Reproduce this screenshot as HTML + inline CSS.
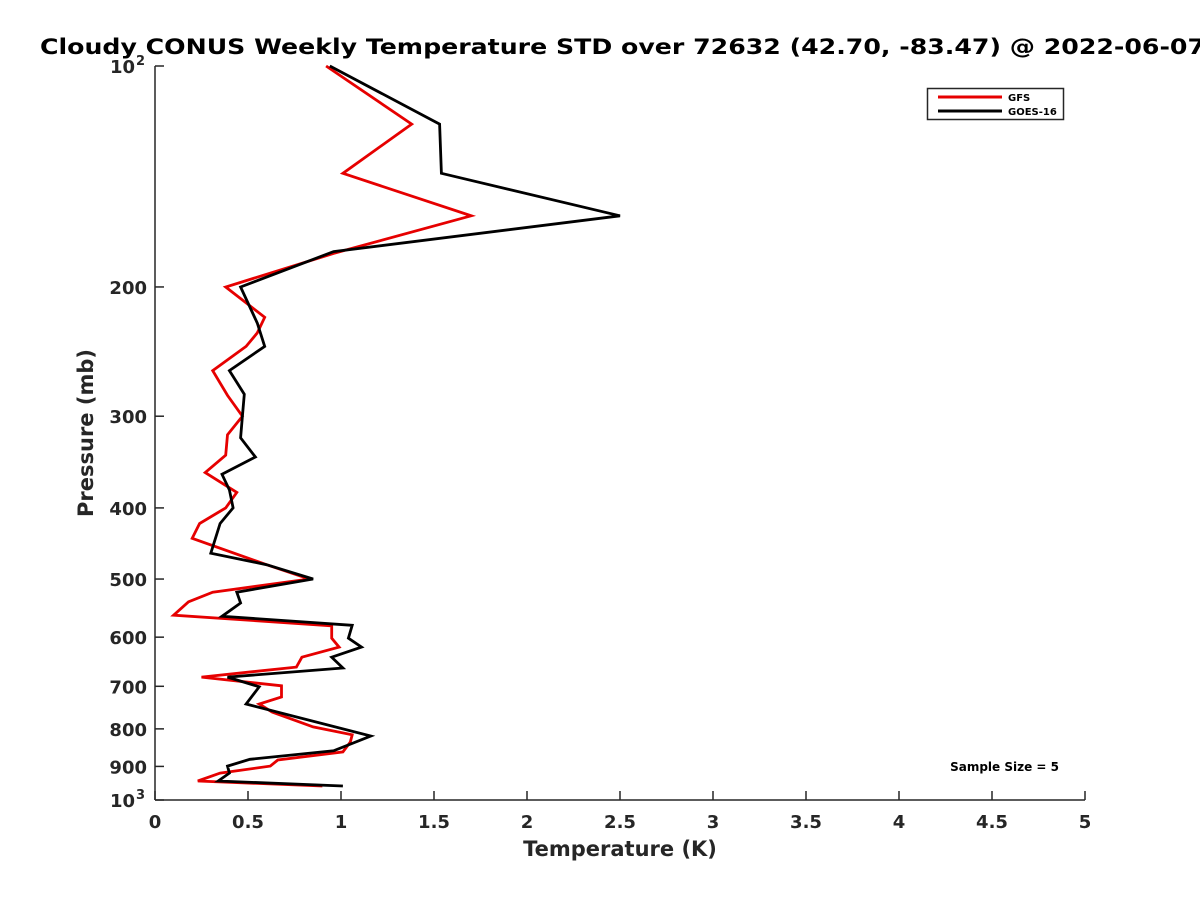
<!DOCTYPE html>
<html><head><meta charset="utf-8"><style>
html,body{margin:0;padding:0;background:#fff;}
svg{display:block;font-family:"DejaVu Sans","Liberation Sans",sans-serif;font-weight:bold;}
</style></head><body>
<svg id="chart" width="1200" height="900" viewBox="0 0 1200 900" xmlns="http://www.w3.org/2000/svg">
<rect width="1200" height="900" fill="#fff"/>
<text x="40" y="54" font-size="21" fill="#000" textLength="1165" lengthAdjust="spacingAndGlyphs">Cloudy CONUS Weekly Temperature STD over 72632 (42.70, -83.47) @ 2022-06-07</text>
<g id="axes"></g>
<g id="series"></g>
<text transform="translate(93,433) rotate(-90)" text-anchor="middle" font-size="21" fill="#262626">Pressure (mb)</text>
<text x="620" y="856" text-anchor="middle" font-size="21" fill="#262626">Temperature (K)</text>
<g>
<rect x="927.5" y="88.5" width="136" height="31" fill="#fff" stroke="#262626" stroke-width="1.5"/>
<line x1="938" y1="97" x2="1002" y2="97" stroke="#e60000" stroke-width="3"/>
<text x="1008" y="101" font-size="10" fill="#000">GFS</text>
<line x1="938" y1="111" x2="1002" y2="111" stroke="#000" stroke-width="3"/>
<text x="1008" y="115" font-size="10" fill="#000">GOES-16</text>
</g>
<text x="1059" y="771" text-anchor="end" font-size="12" fill="#000">Sample Size = 5</text>
</svg>
<script>
const xTicks = [0,0.5,1,1.5,2,2.5,3,3.5,4,4.5,5];
const xTickLabels = ["0","0.5","1","1.5","2","2.5","3","3.5","4","4.5","5"];
const yTicks = [100,200,300,400,500,600,700,800,900,1000];
const yTickLabels = ["10^2","200","300","400","500","600","700","800","900","10^3"];

const gfsPressure = [100,120,140,160,180,200,220,231,241,260,281,300,318,339,358,381,400,420,440,478,500,521,537,560,579,602,619,639,659,680,699,724,740,759,795,815,834,860,882,899,919,942,957];
const gfsTemp = [0.92,1.38,1.01,1.70,0.96,0.38,0.59,0.55,0.49,0.31,0.39,0.47,0.39,0.38,0.27,0.44,0.38,0.24,0.20,0.60,0.83,0.31,0.18,0.10,0.95,0.95,0.99,0.79,0.76,0.25,0.68,0.68,0.56,0.63,0.85,1.06,1.05,1.01,0.66,0.62,0.35,0.23,0.90];

const goesPressure = [100,120,140,160,179,200,224,241,260,280,300,321,341,360,378,400,420,461,478,500,521,539,562,578,602,619,639,661,680,701,740,818,857,880,899,919,942,957];
const goesTemp = [0.94,1.53,1.54,2.50,0.96,0.46,0.55,0.59,0.40,0.48,0.47,0.46,0.54,0.36,0.40,0.42,0.35,0.30,0.60,0.85,0.44,0.46,0.36,1.06,1.04,1.11,0.95,1.01,0.39,0.56,0.49,1.16,0.96,0.51,0.39,0.40,0.34,1.01];

const X0=155, X1=1085, Y0=66, Y1=800;
function xScale(v){return X0 + (v-0)/(5-0)*(X1-X0);}
function yScale(p){return Y0 + (Math.log10(p)-2)/(3-2)*(Y1-Y0);}

const NS="http://www.w3.org/2000/svg";
const axes=document.getElementById('axes');
function mk(tag,attrs,parent){const e=document.createElementNS(NS,tag);for(const k in attrs)e.setAttribute(k,attrs[k]);parent.appendChild(e);return e;}

const yl=mk('line',{x1:X0,y1:Y0,x2:X0,y2:Y1,stroke:'#262626','stroke-width':1.5},axes);


const xl=mk('line',{x1:X0,y1:Y1,x2:X1,y2:Y1,stroke:'#262626','stroke-width':1.5},axes);



xTicks.forEach((v,i)=>{
  const x=xScale(v);
  const t=mk('line',{x1:x,y1:Y1,x2:x,y2:Y1-9,stroke:'#262626','stroke-width':1.5},axes);
  
  
  const l=mk('text',{x:x,y:Y1+28,'text-anchor':'middle','font-size':18,fill:'#262626'},axes);
  
  
  l.textContent=xTickLabels[i];
});
yTicks.forEach((p,i)=>{
  const y=yScale(p);
  const t=mk('line',{x1:X0,y1:y,x2:X0+9,y2:y,stroke:'#262626','stroke-width':1.5},axes);
  
  
  const lab=yTickLabels[i];
  const l=mk('text',{x:X0-8,y:y+7,'text-anchor':'end','font-size':18,fill:'#262626'},axes);
  
  
  if(lab.indexOf('^')>=0){
    const parts=lab.split('^');
    l.setAttribute('x',X0-20);
    l.textContent=parts[0];
    const s=mk('text',{x:X0-19,y:y-1,'font-size':13,fill:'#262626'},axes);
    
    
    s.textContent=parts[1];
  } else l.textContent=lab;
});

const series=document.getElementById('series');
function drawLine(temps,press,color,name){
  const pts=temps.map((t,i)=>xScale(t).toFixed(1)+','+yScale(press[i]).toFixed(1)).join(' ');
  const pl=mk('polyline',{points:pts,fill:'none',stroke:color,'stroke-width':2.8,'stroke-linejoin':'miter'},series);
  
  
}
drawLine(gfsTemp,gfsPressure,'#e60000','gfs-line');
drawLine(goesTemp,goesPressure,'#000000','goes16-line');
</script>
</body></html>
